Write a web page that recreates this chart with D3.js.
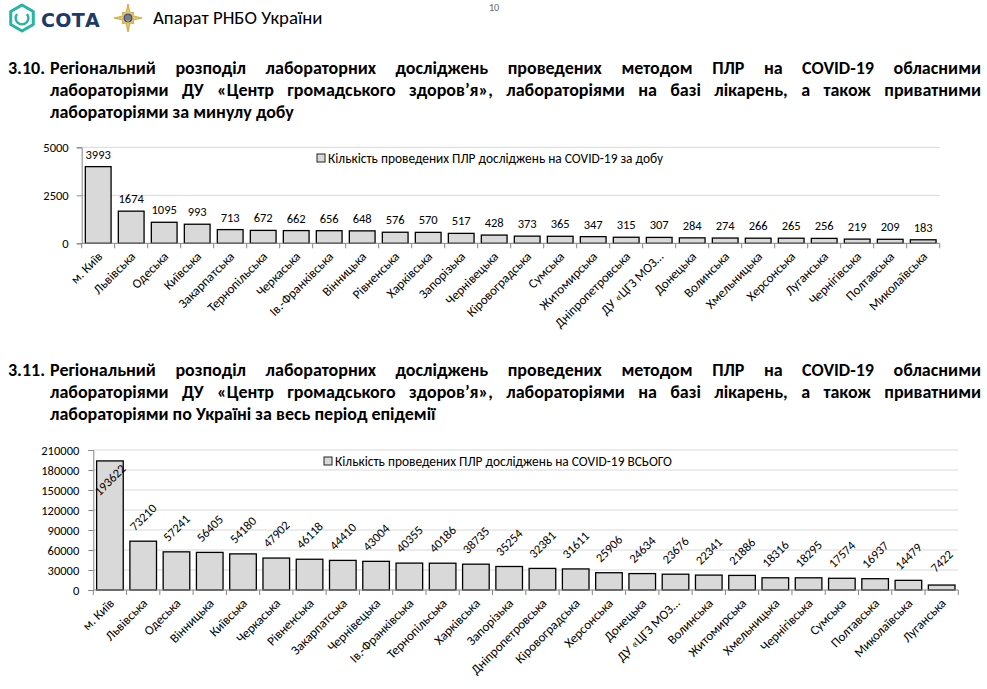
<!DOCTYPE html>
<html>
<head>
<meta charset="utf-8">
<script src="https://cdn.jsdelivr.net/npm/d3@7"></script>
<style>
  html, body { margin:0; padding:0; background:#fff; }
  body { width:987px; height:689px; position:relative; overflow:hidden; font-family: Carlito, Lato, sans-serif; }
  .ttl { position:absolute; left:8px; width:973px; font-weight:bold; font-size:18px; line-height:22px; color:#000; }
  .ttl div { white-space:nowrap; }
  .ttl .j { text-align:justify; text-align-last:justify; white-space:normal; }
  .ttl .num { position:absolute; left:0; }
  .ttl .body { margin-left:42px; }
  svg { position:absolute; left:0; top:0; }
</style>
</head>
<body>
<svg id="page" width="987" height="689"></svg>
<div class="ttl" id="t1"></div>
<div class="ttl" id="t2"></div>
<script>
// ---------- data ----------
const categoriesDaily = ["м. Київ","Львівська","Одеська","Київська","Закарпатська","Тернопільська","Черкаська","Ів.-Франківська","Вінницька","Рівненська","Харківська","Запорізька","Чернівецька","Кіровоградська","Сумська","Житомирська","Дніпропетровська","ДУ «ЦГЗ МОЗ…","Донецька","Волинська","Хмельницька","Херсонська","Луганська","Чернігівська","Полтавська","Миколаївська"];
const valuesDaily = [3993,1674,1095,993,713,672,662,656,648,576,570,517,428,373,365,347,315,307,284,274,266,265,256,219,209,183];
const ticksDaily = [0,2500,5000];
const legendDaily = "Кількість проведених ПЛР досліджень на COVID-19 за добу";

const categoriesTotal = ["м. Київ","Львівська","Одеська","Вінницька","Київська","Черкаська","Рівненська","Закарпатська","Чернівецька","Ів.-Франківська","Тернопільська","Харківська","Запорізька","Дніпропетровська","Кіровоградська","Херсонська","Донецька","ДУ «ЦГЗ МОЗ…","Волинська","Житомирська","Хмельницька","Чернігівська","Сумська","Полтавська","Миколаївська","Луганська"];
const valuesTotal = [193622,73210,57241,56405,54180,47902,46118,44410,43004,40355,40186,38735,35254,32381,31611,25906,24634,23676,22341,21886,18316,18295,17574,16937,14479,7422];
const ticksTotal = [0,30000,60000,90000,120000,150000,180000,210000];
const legendTotal = "Кількість проведених ПЛР досліджень на COVID-19 ВСЬОГО";

const title1 = ["3.10.", "Регіональний розподіл лабораторних досліджень проведених методом ПЛР на COVID-19 обласними",
  "лабораторіями ДУ «Центр громадського здоров’я», лабораторіями на базі лікарень, а також приватними",
  "лабораторіями за минулу добу"];
const title2 = ["3.11.", "Регіональний розподіл лабораторних досліджень проведених методом ПЛР на COVID-19 обласними",
  "лабораторіями ДУ «Центр громадського здоров’я», лабораторіями на базі лікарень, а також приватними",
  "лабораторіями по Україні за весь період епідемії"];

const FONT = "Carlito, Lato, sans-serif";
const svg = d3.select("#page");

// ---------- header ----------
const hdr = svg.append("g");
hdr.append("text").attr("x", 489).attr("y", 11).attr("font-family", FONT).attr("font-size", 10).attr("fill", "#666").text("10");
// СОТА icon
const hex = d3.range(6).map(i => { const a = Math.PI/3*i - Math.PI/2; return [22 + 13*Math.cos(a), 18 + 13*Math.sin(a)]; });
hdr.append("path").attr("d", d3.line().curve(d3.curveLinearClosed)(hex)).attr("fill", "none").attr("stroke", "#25b4a6").attr("stroke-width", 3).attr("stroke-linejoin", "round");
hdr.append("path").attr("d", d3.arc()({innerRadius: 5.2, outerRadius: 7.6, startAngle: Math.PI*0.28, endAngle: Math.PI*1.72})).attr("transform", "translate(22,18)").attr("fill", "#25b4a6");
hdr.append("text").attr("x", 41).attr("y", 27).attr("font-family", "'DejaVu Sans', sans-serif").attr("font-weight", "bold").attr("font-size", 19).attr("fill", "#1d3a6b").attr("letter-spacing", 0.3).text("СОТА");
// emblem
const star = d3.range(16).map(i => { const a = Math.PI/8*i - Math.PI/2; const r = (i%4===0) ? 14 : (i%2===0 ? 8 : 5.5); return [128 + r*Math.cos(a), 18 + r*Math.sin(a)]; });
hdr.append("path").attr("d", d3.line().curve(d3.curveLinearClosed)(star)).attr("fill", "#e8c65e").attr("stroke", "#c99a2e").attr("stroke-width", 0.8);
hdr.append("circle").attr("cx", 128).attr("cy", 18).attr("r", 5).attr("fill", "#2d4f9d").attr("stroke", "#e8c65e").attr("stroke-width", 1);
hdr.append("path").attr("d", "M126,15.5 L126,20 L128,21.5 L130,20 L130,15.5 M128,14.5 L128,21").attr("fill", "none").attr("stroke", "#e8c65e").attr("stroke-width", 0.8);
hdr.append("text").attr("x", 153).attr("y", 24).attr("font-family", FONT).attr("font-size", 18.8).attr("fill", "#000").text("Апарат РНБО України");

// ---------- titles ----------
function buildTitle(id, lines, top) {
  const d = d3.select(id).style("top", top + "px");
  d.append("span").attr("class", "num").text(lines[0]);
  const b = d.append("div").attr("class", "body");
  b.append("div").attr("class", "j").text(lines[1]);
  b.append("div").attr("class", "j").text(lines[2]);
  b.append("div").text(lines[3]);
}
buildTitle("#t1", title1, 57);
buildTitle("#t2", title2, 359);

// ---------- chart drawing ----------
function drawChart(cfg) {
  const g = svg.append("g");
  const x = d3.scaleBand().domain(cfg.cats).range([cfg.x0, cfg.x1]).paddingInner(cfg.pad).paddingOuter(cfg.pad/2);
  const y = d3.scaleLinear().domain([0, cfg.ymax]).range([cfg.yBottom, cfg.yTop]);
  const step = x.step();

  // gridlines
  g.append("g").selectAll("line").data(cfg.ticks.filter(t => t > 0)).join("line")
    .attr("x1", cfg.x0).attr("x2", cfg.x1).attr("y1", d => y(d)).attr("y2", d => y(d))
    .attr("stroke", "#d9d9d9").attr("stroke-width", 1);

  // y axis
  const ya = g.append("g").attr("transform", `translate(${cfg.x0},0)`)
    .call(d3.axisLeft(y).tickValues(cfg.ticks).tickSize(5).tickPadding(cfg.tickPad).tickFormat(d3.format("d")));
  ya.select(".domain").attr("stroke", "#868686");
  ya.selectAll(".tick line").attr("stroke", "#868686");
  ya.selectAll(".tick text").attr("font-family", FONT).attr("font-size", 12.5).attr("fill", "#000");

  // legend
  g.append("rect").attr("x", cfg.legX).attr("y", cfg.legY - 4).attr("width", 8).attr("height", 8)
    .attr("fill", "#d9d9d9").attr("stroke", "#222").attr("stroke-width", 1);
  g.append("text").attr("x", cfg.legX + 11).attr("y", cfg.legY).attr("dy", "0.35em")
    .attr("font-family", FONT).attr("font-size", 13.4).attr("fill", "#000").text(cfg.legend);

  // bars
  g.append("g").selectAll("rect").data(cfg.vals).join("rect")
    .attr("x", (d, i) => x(cfg.cats[i])).attr("width", x.bandwidth())
    .attr("y", d => y(d)).attr("height", d => y(0) - y(d))
    .attr("fill", "#d9d9d9").attr("stroke", "#000").attr("stroke-width", 1.3);

  // x axis line and ticks at band boundaries
  g.append("line").attr("x1", cfg.x0).attr("x2", cfg.x1).attr("y1", y(0)).attr("y2", y(0)).attr("stroke", "#868686");
  const bounds = d3.range(cfg.cats.length + 1).map(i => cfg.x0 + i * step);
  g.append("g").selectAll("line").data(bounds).join("line")
    .attr("x1", d => d).attr("x2", d => d).attr("y1", y(0)).attr("y2", y(0) + 5).attr("stroke", "#868686");

  // x labels
  g.append("g").selectAll("text").data(cfg.cats).join("text")
    .attr("transform", d => `translate(${x(d) + x.bandwidth()/2 + 5},${y(0) + 14}) rotate(-45)`)
    .attr("text-anchor", "end").attr("font-family", FONT).attr("font-size", 13).attr("fill", "#000")
    .text(d => d);

  // value labels
  const vl = g.append("g");
  cfg.vals.forEach((v, i) => {
    const cx = x(cfg.cats[i]) + x.bandwidth()/2;
    if (cfg.rotLabels) {
      let cy = y(v) - 24;
      if (cy - 20 < cfg.yTop) cy = y(v) + 19;
      vl.append("text").attr("transform", `translate(${cx},${cy}) rotate(-45)`)
        .attr("text-anchor", "middle").attr("dy", "0.35em")
        .attr("font-family", FONT).attr("font-size", 12.5).attr("fill", "#000").text(v);
    } else {
      vl.append("text").attr("x", cx).attr("y", y(v) - 8).attr("text-anchor", "middle")
        .attr("font-family", FONT).attr("font-size", 12.5).attr("fill", "#000").text(v);
    }
  });
}

drawChart({cats: categoriesDaily, vals: valuesDaily, ticks: ticksDaily, ymax: 5000,
  x0: 81.7, x1: 939.7, yTop: 147.3, yBottom: 243.3, pad: 0.22, tickPad: 8,
  legX: 317, legY: 158, legend: legendDaily, rotLabels: false});

drawChart({cats: categoriesTotal, vals: valuesTotal, ticks: ticksTotal, ymax: 210000,
  x0: 93.3, x1: 958.3, yTop: 450, yBottom: 590, pad: 0.2, tickPad: 9,
  legX: 324, legY: 461, legend: legendTotal, rotLabels: true});
</script>
</body>
</html>
